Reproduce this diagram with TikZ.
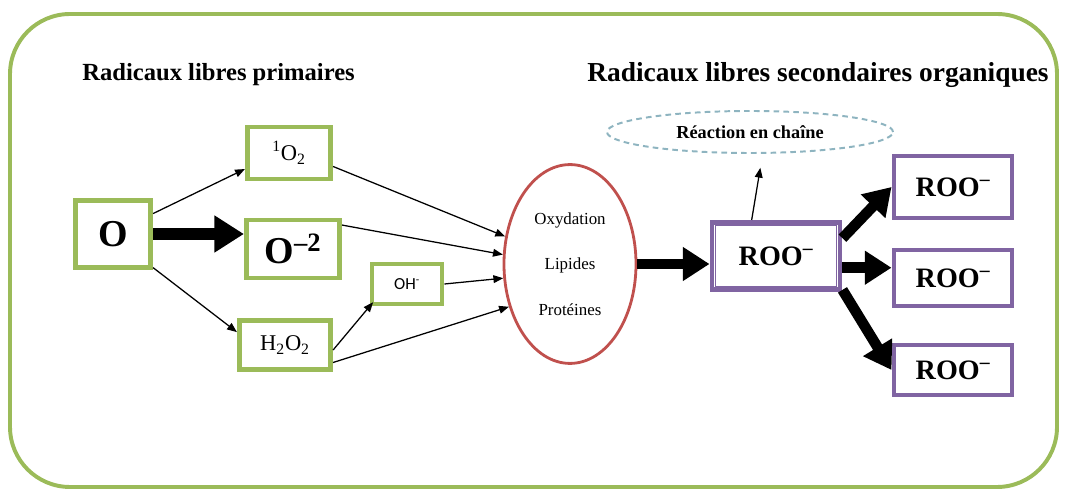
\documentclass[tikz,border=0pt]{standalone}
\usepackage{fontspec}
\setmainfont{Liberation Serif}
\newfontfamily\calibfont{Carlito}
\usetikzlibrary{arrows.meta,shapes.geometric}
\definecolor{boxgreen}{HTML}{9BBB59}
\definecolor{boxpurple}{HTML}{8064A2}
\definecolor{ovalred}{HTML}{C0504D}
\definecolor{dashblue}{HTML}{8EB4C0}

\begin{document}
\begin{tikzpicture}[x=0.025cm,y=-0.025cm,
	gbox/.style={draw=boxgreen,line width=3.5pt,fill=white,inner sep=0pt},
	pbox/.style={draw=boxpurple,line width=3.5pt,inner sep=0pt,minimum width=2.95cm,font=\fontsize{20}{24}\selectfont\bfseries},
	titletext/.style={anchor=west,inner sep=0pt,font=\fontsize{17.5}{20}\selectfont\bfseries},
	thin/.style={-{Triangle[length=7pt,width=5.5pt]},line width=0.9pt},
	fat/.style={-{Triangle[length=19pt,width=23pt]},line width=7.5pt},
	]
	\useasboundingbox (0,0) rectangle (1067,491);
	\draw [boxgreen, line width=2.8pt, rounded corners=1.5cm] (10,14) rectangle (1057,487);

	\node[titletext] (prim) at (82,75) {Radicaux libres primaires};
	\node[titletext, font=\fontsize{19.5}{22}\selectfont\bfseries] (sec) at (587,75) {Radicaux libres secondaires organiques};

	\node[gbox, minimum width=1.88cm, minimum height=1.68cm, font=\fontsize{27}{30}\selectfont\bfseries] (o) at (113,234) {O};
	\node[gbox, minimum width=2.08cm, minimum height=1.3cm, font=\fontsize{16}{18}\selectfont] (o1) at (289,153) {\textsuperscript{1}O\textsubscript{2}};
	\node[gbox, minimum width=2.33cm, minimum height=1.45cm, font=\fontsize{27}{30}\selectfont\bfseries] (o2) at (293,249) {O\textsuperscript{--2}};
	\node[gbox, minimum width=1.75cm, minimum height=1.0cm, font=\fontsize{12}{14}\calibfont] (oh) at (407,284) {OH\textsuperscript{-}};
	\node[gbox, minimum width=2.28cm, minimum height=1.23cm, font=\fontsize{16}{18}\selectfont] (hh) at (285,345) {H\textsubscript{2}O\textsubscript{2}};

	\node[ellipse, draw=ovalred, line width=2pt, minimum width=3.3cm, minimum height=4.97cm, align=center, font=\fontsize{12}{32.5}\selectfont] (lip) at (570,264) {Oxydation\\Lipides\\Prot\'eines};

	\node[ellipse, draw=dashblue, line width=1.4pt, dash pattern=on 4pt off 3pt, minimum width=7.15cm, minimum height=1.05cm, inner sep=0pt, font=\fontsize{13}{15}\selectfont\bfseries] (chain) at (750,132) {R\'eaction en cha\^ine};

	\node[pbox, minimum width=3.2cm, minimum height=1.68cm] (roo) at (776,256) {ROO\textsuperscript{--}};
	\draw [boxpurple, line width=0.8pt] ([xshift=4pt,yshift=-4pt]roo.north west) rectangle ([xshift=-4pt,yshift=4pt]roo.south east);
	\node[pbox, minimum height=1.55cm] (roo1) at (953,187) {ROO\textsuperscript{--}};
	\node[pbox, minimum height=1.4cm] (roo2) at (953,278) {ROO\textsuperscript{--}};
	\node[pbox, minimum height=1.25cm] (roo3) at (953,370) {ROO\textsuperscript{--}};

	\draw [thin] (o.27) -- (o1.200);
	\draw [fat, line width=8.5pt, -{Triangle[length=21pt,width=25pt]}] (o.east) -- (o.east -| o2.west);
	\draw [thin] (o.-40) -- (hh.165);

	\draw [thin] (o1.-17) -- (lip.157);
	\draw [thin] (o2.26) -- (lip.172);
	\draw [thin] (oh.east) -- (lip.192);
	\draw [thin] (hh.-20) -- (lip.215);
	\draw [thin, shorten >=-4pt] (hh.-6) -- (oh.south west);

	\draw [fat] (lip.east) -- (lip.east -| roo.west);
	\draw [thin, shorten >=10pt] (roo.124) -- (chain.-60);

	\draw [fat] (roo.15) -- (roo1.west);
	\draw [fat] (roo.-10) -- (roo.-10 -| roo2.west);
	\draw [fat] (roo.-27) -- (roo3.west);
\end{tikzpicture}
\end{document}
